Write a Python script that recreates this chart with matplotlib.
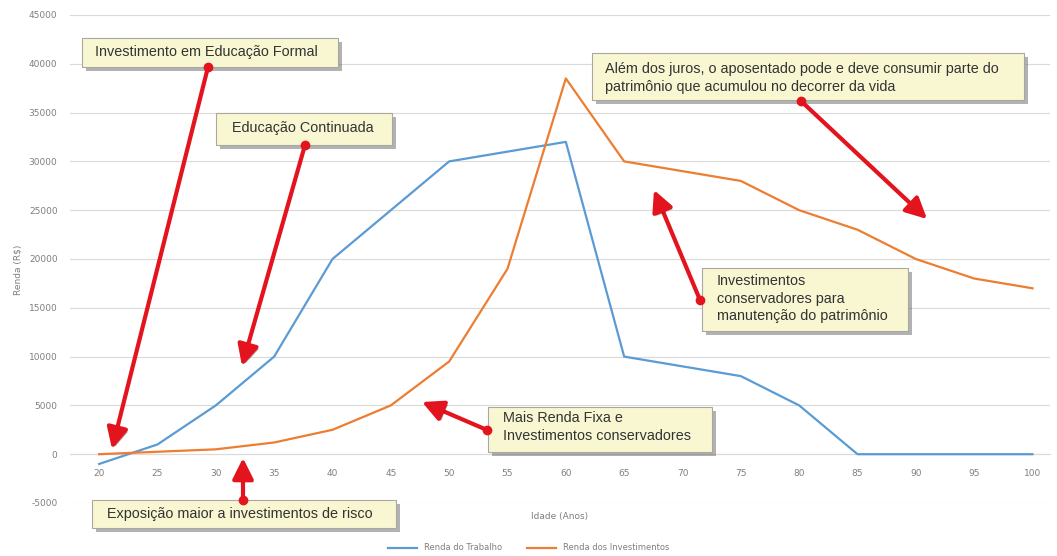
import matplotlib
matplotlib.use('Agg')
import matplotlib.pyplot as plt
from matplotlib.patches import Rectangle, FancyArrowPatch
import matplotlib.patheffects as pe

# idade (anos)
IDADE = [20, 25, 30, 35, 40, 45, 50, 55, 60, 65, 70, 75, 80, 85, 90, 95, 100]
RENDA_TRABALHO = [-1000, 1000, 5000, 10000, 20000, 25000, 30000, 31000, 32000,
                  10000, 9000, 8000, 5000, 0, 0, 0, 0]
RENDA_INVEST = [0, 250, 500, 1200, 2500, 5000, 9500, 19000, 38500,
                30000, 29000, 28000, 25000, 23000, 20000, 18000, 17000]
Y_TICKS = list(range(-5000, 45001, 5000))

BLUE = '#5B9BD5'
ORANGE = '#ED7D31'
RED = '#E3141E'
TICK_GRAY = '#7F7F7F'

W, H = 1057, 556
FONT = 'Liberation Sans'

fig = plt.figure(figsize=(W / 100, H / 100), dpi=100)
ax = fig.add_axes([70 / W, 1 - 503 / H, 980 / W, 488 / H])

ax.plot(IDADE, RENDA_TRABALHO, color=BLUE, lw=1.6, label='Renda do Trabalho', zorder=3)
ax.plot(IDADE, RENDA_INVEST, color=ORANGE, lw=1.6, label='Renda dos Investimentos', zorder=3)

ax.set_xlim(17.5, 101.5)
ax.set_ylim(-5000, 45000)
ax.set_yticks(Y_TICKS)
ax.set_yticklabels([str(v) for v in Y_TICKS])
ax.set_xticks(IDADE)
ax.set_xticklabels([str(v) for v in IDADE])
ax.grid(axis='y', color='#DADADA', lw=0.8)
ax.set_axisbelow(True)
for s in ['top', 'right', 'left']:
    ax.spines[s].set_visible(False)
ax.spines['bottom'].set_position(('data', 0))
ax.spines['bottom'].set_color('#DADADA')
ax.tick_params(axis='both', length=0, labelsize=6.5, labelcolor=TICK_GRAY)
ax.tick_params(axis='y', pad=9)
ax.tick_params(axis='x', pad=11)

ax.text(0.5, -0.027, 'Idade (Anos)', transform=ax.transAxes, ha='center', va='center',
        fontsize=6.5, color=TICK_GRAY)
fig.text(18 / W, 1 - 270 / H, 'Renda (R$)', rotation=90, ha='center', va='center',
         fontsize=6.5, color=TICK_GRAY)

fig.legend(loc='center', bbox_to_anchor=(0.5, 1 - 548 / H), ncol=2, frameon=False,
           fontsize=6, handlelength=3.5, columnspacing=3, labelcolor=TICK_GRAY)


def px(x, y):
    # pixel (from top-left) -> data coords
    return ax.transData.inverted().transform((x, H - y))


def caixa(x0, y0, x1, y1, texto, tx, ty):
    (dx0, dy1) = px(x0, y1)
    (dx1, dy0) = px(x1, y0)
    r = Rectangle((dx0, dy1), dx1 - dx0, dy0 - dy1, facecolor='#F9F7D2',
                  edgecolor='#A8A8A0', lw=0.8, zorder=6, clip_on=False)
    r.set_path_effects([pe.SimplePatchShadow(offset=(3, -3), shadow_rgbFace='#666666', alpha=0.5),
                        pe.Normal()])
    ax.add_patch(r)
    t = px(tx, ty)
    ax.text(t[0], t[1], texto, ha='left', va='top', fontsize=10.4, family=FONT,
            color='#333333', linespacing=1.32, zorder=7, clip_on=False)


def seta(x0, y0, x1, y1):
    a = px(x0, y0)
    b = px(x1, y1)
    arr = FancyArrowPatch(a, b, arrowstyle='-|>,head_length=0.9,head_width=0.45',
                          mutation_scale=14, color=RED, lw=3, zorder=5,
                          shrinkA=0, shrinkB=0, clip_on=False)
    arr.set_path_effects([pe.SimplePatchShadow(offset=(1.5, -1.5), alpha=0.4), pe.Normal()])
    ax.add_patch(arr)
    ax.plot([a[0]], [a[1]], 'o', color=RED, ms=6, zorder=8, clip_on=False)


fig.canvas.draw()

seta(208, 67, 112, 449)
seta(305, 145, 242, 366)
seta(801, 101, 927, 219)
seta(700, 300, 654, 190)
seta(487, 430, 422, 402)
seta(243, 500, 243, 458)

caixa(82, 38, 338, 67, 'Investimento em Educação Formal', 95, 45)
caixa(216, 113, 392, 145, 'Educação Continuada', 232, 121)
caixa(592, 53, 1024, 100,
      'Além dos juros, o aposentado pode e deve consumir parte do\n'
      'patrimônio que acumulou no decorrer da vida', 605, 62)
caixa(702, 268, 908, 331,
      'Investimentos\nconservadores para\nmanutenção do patrimônio', 717, 274)
caixa(488, 407, 712, 452, 'Mais Renda Fixa e\nInvestimentos conservadores', 503, 411)
caixa(92, 500, 396, 528, 'Exposição maior a investimentos de risco', 107, 507)

fig.savefig('out.png', dpi=100)
